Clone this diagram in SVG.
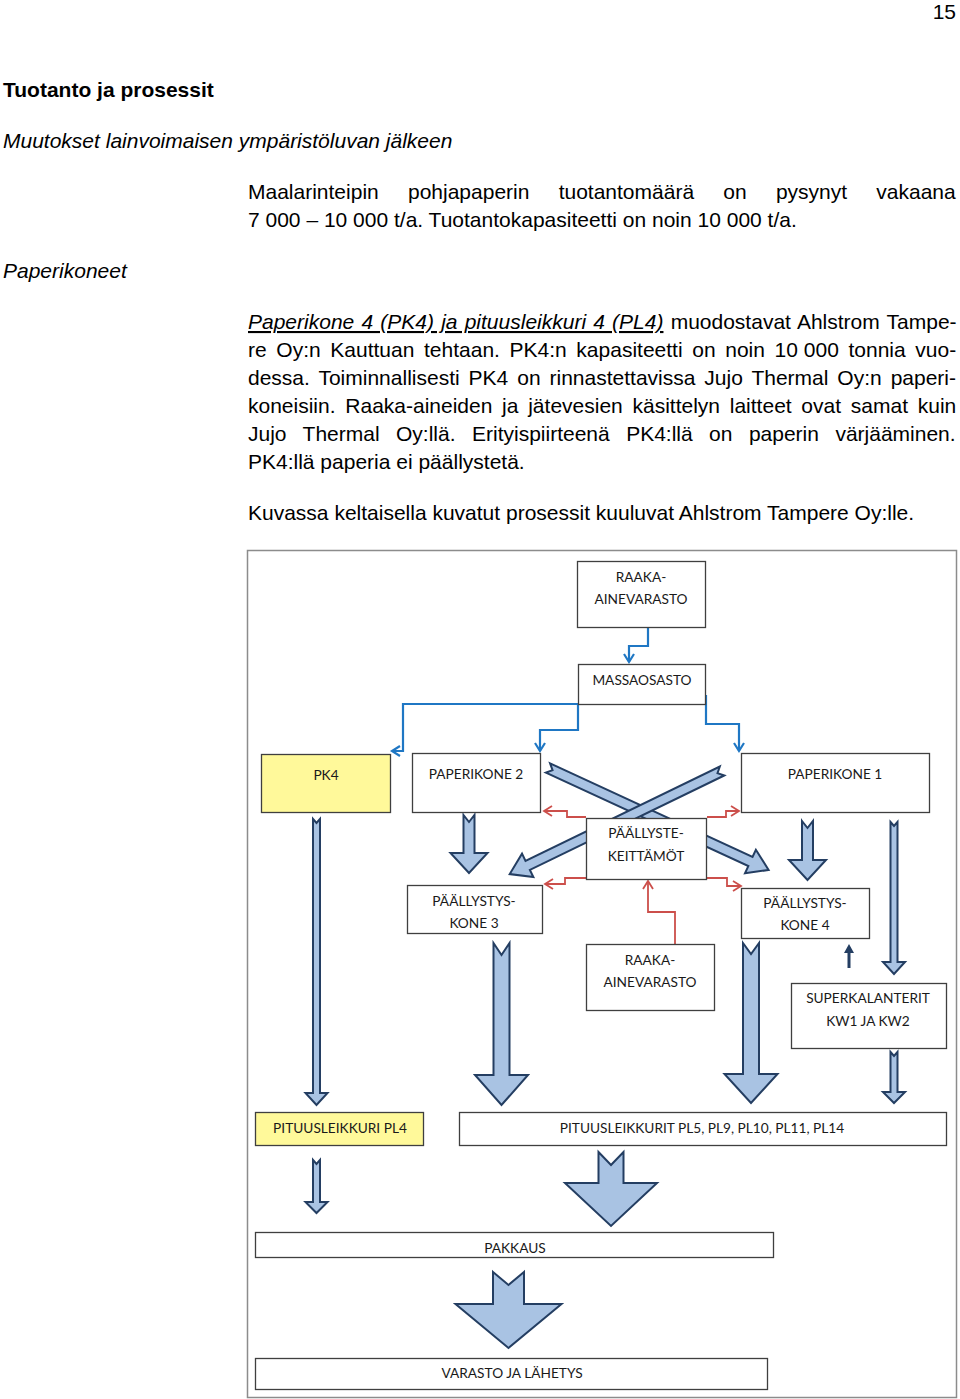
<svg xmlns="http://www.w3.org/2000/svg" width="960" height="1399" viewBox="0 0 960 1399">
<defs>
<style>
.body{font-family:"Liberation Sans",Arial,sans-serif;font-size:21px;fill:#000}
.b{font-weight:bold}
.i{font-style:italic}
.box{fill:#fff;stroke:#3f3f3f;stroke-width:1.3}
.yel{fill:#fff99a;stroke:#3f3f3f;stroke-width:1.3}
.lbl{font-family:Lato,"Open Sans",sans-serif;font-size:13.7px;fill:#1a1a1a;text-anchor:middle}
.blk{fill:#a9c3e3;stroke:#243e62;stroke-width:2;stroke-linejoin:miter}
.bc{fill:none;stroke:#1f77c4;stroke-width:2.2}
.rc{fill:none;stroke:#cc4f4b;stroke-width:1.8}
</style>
<marker id="ab" markerUnits="userSpaceOnUse" markerWidth="14" markerHeight="14" refX="9" refY="6" orient="auto">
<path d="M1,1 L9,6 L1,11" fill="none" stroke="#1f77c4" stroke-width="2.2"/>
</marker>
<marker id="ar" markerUnits="userSpaceOnUse" markerWidth="14" markerHeight="14" refX="9" refY="6" orient="auto">
<path d="M1,1 L9,6 L1,11" fill="none" stroke="#cc4f4b" stroke-width="1.8"/>
</marker>
</defs>
<rect width="960" height="1399" fill="#fff"/>

<g id="page-text" class="body">
<text x="956" y="19" text-anchor="end">15</text>
<text x="3" y="97" class="b">Tuotanto ja prosessit</text>
<text x="3" y="148" class="i">Muutokset lainvoimaisen ympäristöluvan jälkeen</text>
<text x="248" y="199" word-spacing="23.4">Maalarinteipin pohjapaperin tuotantomäärä on pysynyt vakaana</text>
<text x="248" y="227">7 000 – 10 000 t/a. Tuotantokapasiteetti on noin 10 000 t/a.</text>
<text x="3" y="278" class="i">Paperikoneet</text>
<text x="248" y="329" word-spacing="1.35"><tspan font-style="italic" text-decoration="underline">Paperikone 4 (PK4) ja pituusleikkuri 4 (PL4)</tspan> muodostavat Ahlstrom Tampe-</text>
<text x="248" y="357" word-spacing="3.8">re Oy:n Kauttuan tehtaan. PK4:n kapasiteetti on noin <tspan word-spacing="0">10 000</tspan> tonnia vuo-</text>
<text x="248" y="385" word-spacing="3.1">dessa. Toiminnallisesti PK4 on rinnastettavissa Jujo Thermal Oy:n paperi-</text>
<text x="248" y="413" word-spacing="3.9">koneisiin. Raaka-aineiden ja jätevesien käsittelyn laitteet ovat samat kuin</text>
<text x="248" y="441" word-spacing="10.6">Jujo Thermal Oy:llä. Erityispiirteenä PK4:llä on paperin värjääminen.</text>
<text x="248" y="469">PK4:llä paperia ei päällystetä.</text>
<text x="248" y="520">Kuvassa keltaisella kuvatut prosessit kuuluvat Ahlstrom Tampere Oy:lle.</text>
</g>

<rect id="frame" x="247.5" y="550.5" width="709" height="847" fill="none" stroke="#8c8c8c" stroke-width="1.5"/>

<g id="connectors">
<path class="bc" d="M648,627 V646 H629 V662" marker-end="url(#ab)"/>
<path class="bc" d="M578,704 H403 V751 H392" marker-end="url(#ab)"/>
<path class="bc" d="M578,704 V730 H540 V751" marker-end="url(#ab)"/>
<path class="bc" d="M706,695 V724 H739 V751" marker-end="url(#ab)"/>
<path class="rc" d="M586,817 H567 V811 H544" marker-end="url(#ar)"/>
<path class="rc" d="M586,878 H565 V884 H545" marker-end="url(#ar)"/>
<path class="rc" d="M707,817 H726 V811 H739" marker-end="url(#ar)"/>
<path class="rc" d="M707,878 H727 V886 H741" marker-end="url(#ar)"/>
<path class="rc" d="M675,944 V912 H648 V881" marker-end="url(#ar)"/>
<polygon class="blk" points="313,819 316.5,823 320,819 320,1093 327.5,1093 316.5,1105 305.5,1093 313,1093"/>
<polygon class="blk" points="313,1160 316.5,1164 320,1160 320,1202 327.5,1202 316.5,1213 305.5,1202 313,1202"/>
<polygon class="blk" points="463.5,815 469,822 474.5,815 474.5,853 487.5,853 469,873 450.5,853 463.5,853"/>
<polygon class="blk" points="493.5,943 501.5,955 509.5,943 509.5,1075 528,1075 501.5,1105 475,1075 493.5,1075"/>
<polygon class="blk" points="743,943 751,954 759,943 759,1074 777.5,1074 751,1103 724.5,1074 743,1074"/>
<polygon class="blk" points="802,821 807.5,828 813,821 813,860 826,860 807.5,880 789,860 802,860"/>
<polygon class="blk" points="890.5,822 894,826 897.5,822 897.5,962 905,962 894,974 883,962 890.5,962"/>
<polygon class="blk" points="890.5,1052 894,1056 897.5,1052 897.5,1092 905,1092 894,1103 883,1092 890.5,1092"/>
<polygon class="blk" points="598.5,1152 611,1165 623.5,1152 623.5,1183 657,1183 611,1226 565,1183 598.5,1183"/>
<polygon class="blk" points="493,1272 508.5,1285 524,1272 524,1304 561.5,1304 508.5,1348 455.5,1304 493,1304"/>
<polygon class="blk" transform="translate(548,768) rotate(24.8)" points="0,-5 223,-5 223,-13 243,0 223,13 223,5 0,5 5,0"/>
<polygon class="blk" transform="translate(722,771) rotate(154.1)" points="0,-5 216,-5 216,-13 236,0 216,13 216,5 0,5 5,0"/>
<polygon fill="#243e62" points="847.5,968 850.5,968 850.5,953 854,953 849,944 844,953 847.5,953"/>
</g>

<g id="n-raaka1"><rect class="box" x="577.5" y="561.5" width="128" height="66"/><text class="lbl" x="641" y="582">RAAKA-</text><text class="lbl" x="641" y="604">AINEVARASTO</text></g>
<g id="n-massa"><rect class="box" x="578.5" y="664.5" width="127" height="40"/><text class="lbl" x="642" y="685">MASSAOSASTO</text></g>
<g id="n-pk4"><rect class="yel" x="261.5" y="754.5" width="129" height="58"/><text class="lbl" x="326" y="780">PK4</text></g>
<g id="n-pk2"><rect class="box" x="412.5" y="753.5" width="128" height="59"/><text class="lbl" x="476" y="779">PAPERIKONE 2</text></g>
<g id="n-pk1"><rect class="box" x="741.5" y="753.5" width="188" height="59"/><text class="lbl" x="835" y="779">PAPERIKONE 1</text></g>
<g id="n-keittamot"><rect class="box" x="586.5" y="818.5" width="120" height="61"/><text class="lbl" x="646" y="838">PÄÄLLYSTE-</text><text class="lbl" x="646" y="861">KEITTÄMÖT</text></g>
<g id="n-pak3"><rect class="box" x="407.5" y="885.5" width="135" height="48"/><text class="lbl" x="474" y="906">PÄÄLLYSTYS-</text><text class="lbl" x="474" y="928">KONE 3</text></g>
<g id="n-pak4"><rect class="box" x="741.5" y="888.5" width="128" height="50"/><text class="lbl" x="805" y="908">PÄÄLLYSTYS-</text><text class="lbl" x="805" y="930">KONE 4</text></g>
<g id="n-raaka2"><rect class="box" x="586.5" y="944.5" width="128" height="66"/><text class="lbl" x="650" y="965">RAAKA-</text><text class="lbl" x="650" y="987">AINEVARASTO</text></g>
<g id="n-super"><rect class="box" x="791.5" y="983.5" width="155" height="65"/><text class="lbl" x="868" y="1003">SUPERKALANTERIT</text><text class="lbl" x="868" y="1026">KW1 JA KW2</text></g>
<g id="n-pl4"><rect class="yel" x="255.5" y="1112.5" width="168" height="33"/><text class="lbl" x="340" y="1133">PITUUSLEIKKURI PL4</text></g>
<g id="n-pl"><rect class="box" x="459.5" y="1112.5" width="487" height="33"/><text class="lbl" x="702" y="1133">PITUUSLEIKKURIT PL5, PL9, PL10, PL11, PL14</text></g>
<g id="n-pakkaus"><rect class="box" x="255.5" y="1232.5" width="518" height="25"/><text class="lbl" x="515" y="1253">PAKKAUS</text></g>
<g id="n-varasto"><rect class="box" x="255.5" y="1358.5" width="512" height="31"/><text class="lbl" x="512" y="1378">VARASTO JA LÄHETYS</text></g>
</svg>
